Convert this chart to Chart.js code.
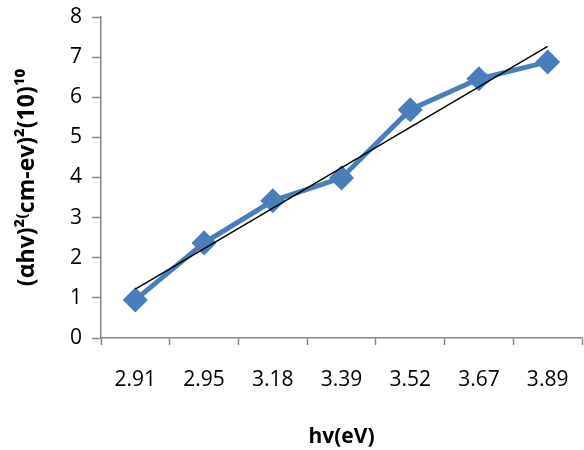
<!DOCTYPE html>
<html>
<head>
<meta charset="utf-8">
<script src="https://cdn.jsdelivr.net/npm/chart.js@4"></script>
<style>
  html, body { margin: 0; padding: 0; background: #fff; }
  #wrap { width: 584px; height: 450px; }
</style>
</head>
<body>
<div id="wrap"><canvas id="chart"></canvas></div>
<script>
const energies = ['2.91', '2.95', '3.18', '3.39', '3.52', '3.67', '3.89'];
const absorption = [0.95, 2.37, 3.42, 3.99, 5.69, 6.46, 6.88];
// linear fit line at the first and last point
const trendEnds = [1.22, 7.27];

const axisGray = '#868686';
const fontFamily = '"Open Sans", "DejaVu Sans", sans-serif';

new Chart(document.getElementById('chart'), {
  type: 'line',
  data: {
    labels: energies,
    datasets: [
      {
        label: 'data',
        data: absorption,
        borderColor: '#4a7ebb',
        backgroundColor: '#4a7ebb',
        borderWidth: 5,
        pointStyle: 'rectRot',
        pointRadius: 9,
        pointHoverRadius: 9,
        tension: 0,
        order: 2
      },
      {
        label: 'fit',
        data: [
          { x: energies[0], y: trendEnds[0] },
          { x: energies[energies.length - 1], y: trendEnds[1] }
        ],
        borderColor: '#000',
        borderWidth: 1.5,
        pointRadius: 0,
        tension: 0,
        order: 1
      }
    ]
  },
  options: {
    responsive: true,
    maintainAspectRatio: false,
    animation: false,
    layout: { autoPadding: false, padding: { top: 17, right: 2, left: 0, bottom: 0 } },
    plugins: { legend: { display: false }, tooltip: { enabled: false } },
    scales: {
      x: {
        type: 'category',
        offset: true,
        grid: { display: true, offset: true, drawOnChartArea: false, color: axisGray, tickLength: 7, tickWidth: 1.5 },
        border: { color: axisGray, width: 1.5 },
        ticks: { color: '#000', font: { family: fontFamily, size: 21 }, padding: 22, maxRotation: 0 },
        title: { display: true, text: 'hv(eV)', color: '#000', font: { family: fontFamily, size: 21, weight: 'bold' }, padding: { top: 0, bottom: 0 } },
        afterFit: s => { s.height = 112; s.paddingLeft = 0; s.paddingRight = 0; }
      },
      y: {
        min: 0,
        max: 8,
        grid: { display: true, drawOnChartArea: false, color: axisGray, tickLength: 9, tickWidth: 1.5 },
        border: { color: axisGray, width: 1.5 },
        ticks: { stepSize: 1, color: '#000', font: { family: fontFamily, size: 21 }, padding: 10 },
        title: { display: true, text: '(αhv)²⁽cm-ev)²(10)¹⁰', color: '#000', font: { family: fontFamily, size: 23, weight: 'bold' }, padding: { top: 14, bottom: 0 } },
        afterFit: s => { s.width = 101; s.paddingTop = 0; s.paddingBottom = 0; }
      }
    }
  }
});
</script>
</body>
</html>
